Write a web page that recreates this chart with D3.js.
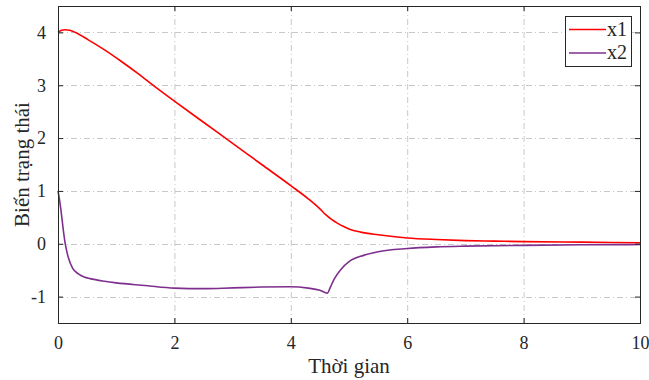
<!DOCTYPE html>
<html><head><meta charset="utf-8">
<script src="https://cdn.jsdelivr.net/npm/d3@7"></script>
<style>body{margin:0;background:#fff}svg{display:block}</style>
</head><body>
<svg id="c" width="649" height="380"></svg>
<script>
const tX1 = [0,0.06,0.12,0.2,0.3,0.52,0.8,1.09,1.4,1.67,2,2.5,3,3.5,4,4.3,4.5,4.6,4.7,4.8,4.9,5,5.2,5.5,6,6.5,7,7.5,8,9,10];
const x1  = [4.0,4.04,4.05,4.04,4.0,3.86,3.67,3.45,3.2,2.97,2.70,2.30,1.90,1.50,1.10,0.85,0.66,0.55,0.46,0.39,0.33,0.28,0.22,0.17,0.11,0.08,0.06,0.05,0.04,0.03,0.02];
const tX2 = [0,0.03,0.06,0.09,0.12,0.15,0.18,0.25,0.35,0.45,0.55,0.8,1,1.5,2,2.5,3,3.5,4,4.3,4.5,4.63,4.68,4.75,4.85,5,5.25,5.5,6,6.5,7,8,9,10];
const x2  = [1.0,0.8,0.55,0.27,0.03,-0.14,-0.27,-0.46,-0.57,-0.63,-0.66,-0.71,-0.74,-0.79,-0.84,-0.85,-0.835,-0.82,-0.815,-0.84,-0.88,-0.935,-0.82,-0.66,-0.5,-0.34,-0.22,-0.15,-0.09,-0.06,-0.045,-0.03,-0.02,-0.015];
const xTicks = [0,2,4,6,8,10];
const yTicks = [-1,0,1,2,3,4];
const seriesNames = ["x1","x2"];
const colors = ["#ff0000","#7e2f8e"];

const svg = d3.select("#c");
const L=58, R=640, T=6, B=323;
const x = d3.scaleLinear().domain([0,10]).range([L,R]);
const y = d3.scaleLinear().domain([-1.5,4.5]).range([B,T]);
const font = "'Liberation Serif','Times New Roman',serif";
const fmt = d => String(d).replace("\u2212","-");

// grid
const grid = svg.append("g").attr("stroke","#c8c8c8").attr("stroke-width",1).attr("stroke-dasharray","6,3,1,3");
xTicks.slice(1,-1).forEach(v=>grid.append("line").attr("x1",x(v)+0.5).attr("x2",x(v)+0.5).attr("y1",T).attr("y2",B));
yTicks.forEach(v=>grid.append("line").attr("x1",L).attr("x2",R).attr("y1",Math.round(y(v))+0.5).attr("y2",Math.round(y(v))+0.5));

// lines
const line = d3.line().x(d=>x(d[0])).y(d=>y(d[1])).curve(d3.curveMonotoneX);
svg.append("path").datum(tX1.map((t,i)=>[t,x1[i]])).attr("d",line).attr("fill","none").attr("stroke",colors[0]).attr("stroke-width",1.6);
svg.append("path").datum(tX2.map((t,i)=>[t,x2[i]])).attr("d",line).attr("fill","none").attr("stroke",colors[1]).attr("stroke-width",1.6);

// axes
const ax = "#262626";
const gB = svg.append("g").attr("transform",`translate(0,${B})`).call(d3.axisBottom(x).tickValues(xTicks).tickSize(-5).tickPadding(13).tickFormat(fmt));
const gT = svg.append("g").attr("transform",`translate(0,${T})`).call(d3.axisTop(x).tickValues(xTicks).tickSize(-5).tickFormat(""));
const gL = svg.append("g").attr("transform",`translate(${L},0)`).call(d3.axisLeft(y).tickValues(yTicks).tickSize(-5).tickPadding(12).tickFormat(fmt));
const gR = svg.append("g").attr("transform",`translate(${R},0)`).call(d3.axisRight(y).tickValues(yTicks).tickSize(-5).tickFormat(""));
[gB,gT,gL,gR].forEach(g=>{
  g.attr("font-family",null);
  g.select(".domain").attr("stroke",ax).attr("stroke-width",1);
  g.selectAll(".tick line").attr("stroke",ax);
  g.selectAll("text").attr("fill",ax).style("font-family",font).style("font-size","18px");
});
gB.selectAll("text").attr("dy","0.71em");

// labels
svg.append("text").attr("x",(L+R)/2).attr("y",373).attr("text-anchor","middle").style("font-family",font).style("font-size","21px").attr("fill",ax).text("Thời gian");
svg.append("text").attr("transform",`translate(29,${(T+B)/2}) rotate(-90)`).attr("text-anchor","middle").style("font-family",font).style("font-size","21px").attr("fill",ax).text("Biến trạng thái");

// legend
const lg = svg.append("g");
lg.append("rect").attr("x",565.5).attr("y",16.5).attr("width",66).attr("height",50).attr("fill","#fff").attr("stroke",ax).attr("stroke-width",1);
seriesNames.forEach((n,i)=>{
  const yy = 29.5 + i*23.5;
  lg.append("line").attr("x1",569).attr("x2",606).attr("y1",yy).attr("y2",yy).attr("stroke",colors[i]).attr("stroke-width",1.6);
  lg.append("text").attr("x",607).attr("y",yy+6).style("font-family",font).style("font-size","20px").attr("fill",ax).text(n);
});
</script>
</body></html>
